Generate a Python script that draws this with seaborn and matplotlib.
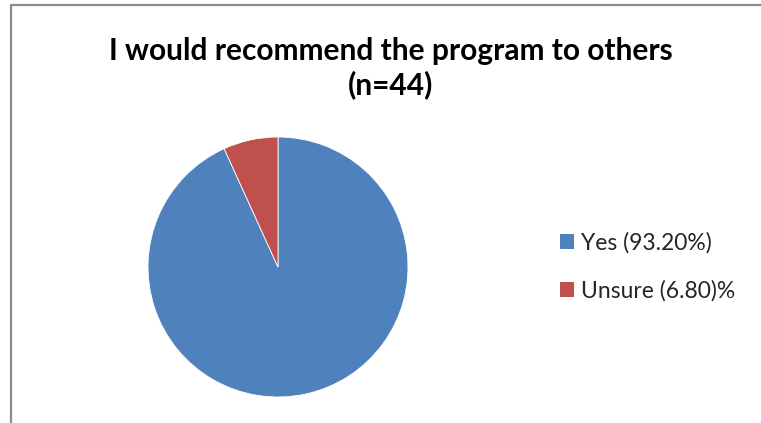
import matplotlib
matplotlib.use('Agg')
import matplotlib.pyplot as plt
import seaborn as sns
from matplotlib.lines import Line2D
from matplotlib.patches import Patch

# Data
labels = ['Yes (93.20%)', 'Unsure (6.80)%']
values = [93.2, 6.8]
colors = ['#4F81BD', '#C0504D']
title = 'I would recommend the program to others\n(n=44)'

sns.set_theme(style='white')
plt.rcParams['font.family'] = ['Lato', 'DejaVu Sans']

W, H = 761, 423
fig = plt.figure(figsize=(W / 100, H / 100), dpi=100)
fig.patch.set_facecolor('white')

# Pie axes placed so the circle sits at (278, 267) px with radius 130 px
cx, cy, r = 278, 267, 130
ax = fig.add_axes([(cx - r) / W, (H - cy - r) / H, 2 * r / W, 2 * r / H])
ax.pie(values, colors=colors, startangle=90, counterclock=False,
       wedgeprops=dict(edgecolor='white', linewidth=0.6))
ax.set_xlim(-1, 1)
ax.set_ylim(-1, 1)
ax.axis('off')

# Title
fig.text(391 / W, 1 - 68 / H, title, ha='center', va='center',
         fontsize=21.5, fontweight='bold', color='black', linespacing=1.22)

# Legend
handles = [Patch(facecolor=c, edgecolor='none') for c in colors]
fig.legend(handles, labels, loc='center left', bbox_to_anchor=(551 / W, 1 - 267 / H),
           frameon=False, fontsize=16.5, handlelength=0.6, handleheight=0.6,
           handletextpad=0.3, labelspacing=1.15, borderaxespad=0)

# Chart-area border (top and left edges visible)
gray = '#8c8c8c'
fig.add_artist(Line2D([10.5 / W, 1], [1 - 5.5 / H, 1 - 5.5 / H], transform=fig.transFigure,
                      color=gray, linewidth=1.6))
fig.add_artist(Line2D([10.5 / W, 10.5 / W], [1 - 5.5 / H, 0], transform=fig.transFigure,
                      color=gray, linewidth=1.6))

fig.savefig('out.png', dpi=100, facecolor='white')
